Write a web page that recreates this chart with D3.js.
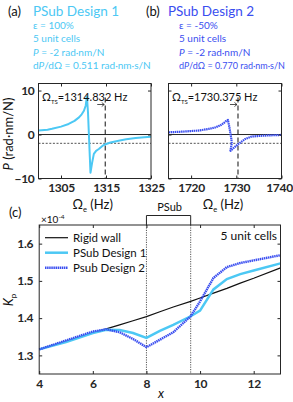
<!DOCTYPE html>
<html>
<head>
<meta charset="utf-8">
<script src="https://cdn.jsdelivr.net/npm/d3@7"></script>
<style>
  body { margin: 0; background: #fff; }
  svg { display: block; font-family: Lato, 'Open Sans', sans-serif; }
  .tick text { font-family: Lato, 'Open Sans', sans-serif; font-weight: 700; fill: #262626; letter-spacing: -0.3px; }
</style>
</head>
<body>
<svg id="chart" width="293" height="402"></svg>
<script>
// (a) PSub Design 1 : P vs excitation frequency
const freqA = [1300, 1302, 1303, 1305, 1306.7, 1308, 1309, 1309.6, 1310.1, 1310.5, 1310.75,
  1311.0, 1311.2, 1311.4, 1311.55, 1311.9, 1312.3, 1312.8, 1313.4, 1314.2, 1314.9, 1316,
  1317.8, 1319.5, 1321.6, 1323.5, 1325];
const pA = [0.9, 1.1, 1.3, 1.8, 2.4, 3.1, 3.9, 4.6, 5.4, 6.6, 8.7,
  5, 0, -5, -8.7, -6.5, -4.4, -3.7, -3.3, -2.6, -2.2, -1.8,
  -1.4, -1.1, -0.8, -0.6, -0.5];

// (b) PSub Design 2
const freqB = [1715, 1718, 1721.6, 1724, 1725.3, 1726.5, 1727.2, 1727.8, 1728.15, 1728.5,
  1728.9, 1729.0, 1728.7, 1730.4, 1732, 1733.4, 1736.4, 1740];
const pB = [0.5, 0.65, 0.9, 1.3, 1.6, 2.1, 2.6, 3.1, 3.3, 1.5,
  -1.0, -2.0, -3.7, -2.2, -1.0, -0.45, -0.23, -0.1];

const tsFreq = [1314.832, 1730.375];
const pTarget = -2;

const ticksFA = [1305, 1315, 1325];
const ticksFB = [1720, 1730, 1740];
const ticksP = [-10, 0, 10];

// (c) K_p along x (x10^-4)
const xPos = [4, 5, 6, 6.5, 7, 7.5, 8, 8.5, 9, 9.65, 10, 10.5, 11, 11.5, 12, 13];
const kRigid = [1.316, 1.338, 1.360, 1.371, 1.382, 1.393, 1.404, 1.417, 1.430, 1.445, 1.454, 1.467, 1.480, 1.494, 1.507, 1.535];
const kDesign1 = [1.316, 1.336, 1.360, 1.369, 1.368, 1.360, 1.347, 1.366, 1.382, 1.405, 1.420, 1.477, 1.505, 1.518, 1.528, 1.547];
const kDesign2 = [1.316, 1.340, 1.364, 1.370, 1.362, 1.344, 1.322, 1.342, 1.362, 1.405, 1.445, 1.508, 1.537, 1.548, 1.555, 1.569];
const psubRange = [8, 9.65];
const ticksX = [4, 6, 8, 10, 12];
const ticksK = [1.3, 1.4, 1.5, 1.6];

const cyan = '#4cc8f4';
const blue = '#3a4ef0';
const ink = '#262626';

const svg = d3.select('#chart');

function frame(x, y, xt, yt, yLabels, pad, xFmt, yFmt) {
  const g = svg.append('g');
  const [x0, x1] = x.range();
  const [yb, yt0] = y.range();
  g.append('g').attr('class', 'xax').attr('transform', `translate(0,${yb})`)
    .call(d3.axisBottom(x).tickValues(xt).tickFormat(xFmt).tickSizeInner(-3).tickSizeOuter(0).tickPadding(pad[0]));
  g.append('g').attr('transform', `translate(0,${yt0})`)
    .call(d3.axisTop(x).tickValues(xt).tickSizeInner(-3).tickSizeOuter(0).tickFormat(''));
  const la = d3.axisLeft(y).tickValues(yt).tickFormat(yLabels ? yFmt : '').tickSizeInner(-3).tickSizeOuter(0).tickPadding(pad[1]);
  g.append('g').attr('transform', `translate(${x0},0)`).call(la);
  g.append('g').attr('transform', `translate(${x1},0)`)
    .call(d3.axisRight(y).tickValues(yt).tickSizeInner(-3).tickSizeOuter(0).tickFormat(''));
  g.selectAll('.domain').remove();
  g.selectAll('.tick line').attr('stroke', ink);
  g.selectAll('.tick text').attr('font-size', 12);
  g.append('rect').attr('x', x0).attr('y', yt0).attr('width', x1 - x0).attr('height', yb - yt0)
    .attr('fill', 'none').attr('stroke', ink).attr('stroke-width', 1);
  return g;
}

// ---------- panels (a) and (b) ----------
const yP = d3.scaleLinear().domain([-10, 11.6]).range([178.5, 83.5]);
const xA = d3.scaleLinear().domain([1300, 1325]).range([38.5, 151]);
const xB = d3.scaleLinear().domain([1715, 1740]).range([168.5, 281.5]);

function responsePanel(x, freq, p, ts, color, dotted, xt, yLabels) {
  const g = svg.append('g');
  const [x0, x1] = x.range();
  g.append('line').attr('x1', x0).attr('x2', x1).attr('y1', yP(0)).attr('y2', yP(0))
    .attr('stroke', ink).attr('stroke-width', 1);
  g.append('line').attr('x1', x0).attr('x2', x1).attr('y1', yP(pTarget)).attr('y2', yP(pTarget))
    .attr('stroke', ink).attr('stroke-width', 0.8).attr('stroke-dasharray', '2,1.6');
  g.append('line').attr('x1', x(ts)).attr('x2', x(ts)).attr('y1', yP.range()[1] + 14).attr('y2', yP.range()[0])
    .attr('stroke', ink).attr('stroke-width', 1.1).attr('stroke-dasharray', '5,3');
  const line = d3.line().x((d, i) => x(freq[i])).y(d => yP(d));
  const path = g.append('path').datum(p).attr('d', line).attr('fill', 'none')
    .attr('stroke', color).attr('stroke-linejoin', 'round');
  if (dotted) path.attr('stroke-width', 2.2).attr('stroke-dasharray', '1.5,0.6');
  else path.attr('stroke-width', 2);
  const fr = frame(x, yP, xt, ticksP, yLabels, [5, 4], d3.format('d'), d3.format('d'));
  // keep the right-most label inside the page
  fr.select('.xax').selectAll('.tick text').filter(d => x(d) > 270).attr('dx', -2.5);
  // Omega_TS label
  const t = svg.append('text').attr('x', x.range()[0] + 3.5).attr('y', 101).attr('font-size', 11)
    .attr('fill', '#111');
  t.append('tspan').text('Ω');
  t.append('tspan').text('TS').attr('font-size', 6).attr('dy', 2.5);
  t.append('tspan').text('=' + ts.toFixed(3) + ' Hz').attr('dy', -2.5);
  // small arrow pointing at the dashed line
  const ax = x(ts);
  svg.append('path').attr('d', `M${ax - 8},104.5H${ax - 1}M${ax - 3.5},102.5L${ax - 1},104.5L${ax - 3.5},106.5`)
    .attr('fill', 'none').attr('stroke', ink).attr('stroke-width', 0.8);
  // x label
  const lx = (x.range()[0] + x.range()[1]) / 2 - 2;
  const xl = svg.append('text').attr('x', lx).attr('y', 209).attr('text-anchor', 'middle')
    .attr('font-size', 13).attr('fill', '#111');
  xl.append('tspan').text('Ω');
  xl.append('tspan').text('e').attr('font-size', 7.5).attr('dy', 2.5);
  xl.append('tspan').text(' (Hz)').attr('dy', -2.5);
}

responsePanel(xA, freqA, pA, tsFreq[0], cyan, false, ticksFA, true);
responsePanel(xB, freqB, pB, tsFreq[1], blue, true, ticksFB, false);

// y label for (a)
const yl = svg.append('text').attr('transform', 'translate(13,134) rotate(-90)')
  .attr('text-anchor', 'middle').attr('font-size', 13).attr('fill', '#111');
yl.append('tspan').text('P').attr('font-style', 'italic');
yl.append('tspan').text(' (rad·nm/N)');

// headings
function heading(tag, tx, title, lx, lines, color, lastSize) {
  svg.append('text').attr('x', tx).attr('y', 16).attr('font-size', 13).attr('fill', '#111').text(tag);
  svg.append('text').attr('x', lx[0]).attr('y', 16).attr('font-size', 13.5).attr('fill', color).text(title);
  lines.forEach((parts, i) => {
    const fs = i === lines.length - 1 ? lastSize : 10;
    const t = svg.append('text').attr('x', lx[1]).attr('y', 29 + i * 13.3).attr('font-size', fs).attr('fill', color);
    parts.forEach(p => {
      const s = t.append('tspan').text(p[0]);
      if (p[1]) s.attr('font-style', 'italic');
    });
  });
}
heading('(a)', 8, 'PSub Design 1', [33, 33], [
  [['ε = 100%']],
  [['5 unit cells']],
  [['P', 1], [' = -2 rad·nm/N']],
  [['d'], ['P', 1], ['/dΩ = 0.511 rad·nm·s/N']]
], cyan, 10);
heading('(b)', 146, 'PSub Design 2', [168, 179], [
  [['ε = -50%']],
  [['5 unit cells']],
  [['P', 1], [' = -2 rad·nm/N']],
  [['d'], ['P', 1], ['/dΩ = 0.770 rad·nm·s/N']]
], blue, 9);

// ---------- panel (c) ----------
const xC = d3.scaleLinear().domain([4, 13]).range([39.2, 280.5]);
const yC = d3.scaleLinear().domain([1.25, 1.65]).range([374, 225]);

svg.append('text').attr('x', 9).attr('y', 217).attr('font-size', 13).attr('fill', '#111').text('(c)');

const gc = svg.append('g');
psubRange.forEach(v => {
  gc.append('line').attr('x1', xC(v)).attr('x2', xC(v)).attr('y1', yC.range()[1]).attr('y2', yC.range()[0])
    .attr('stroke', '#444').attr('stroke-width', 0.9).attr('stroke-dasharray', '1.2,1.2');
});
gc.append('path')
  .attr('d', `M${xC(psubRange[0])},${yC.range()[1]}V215.5H${xC(psubRange[1])}V${yC.range()[1]}`)
  .attr('fill', 'none').attr('stroke', ink).attr('stroke-width', 1);
gc.append('text').attr('x', (xC(psubRange[0]) + xC(psubRange[1])) / 2 + 1).attr('y', 210.5)
  .attr('text-anchor', 'middle').attr('font-size', 11).attr('fill', '#111').text('PSub');

const lineC = d3.line().x((d, i) => xC(xPos[i])).y(d => yC(d));
gc.append('path').datum(kRigid).attr('d', lineC).attr('fill', 'none').attr('stroke', '#111').attr('stroke-width', 1.2);
gc.append('path').datum(kDesign1).attr('d', lineC).attr('fill', 'none').attr('stroke', cyan).attr('stroke-width', 2.5);
gc.append('path').datum(kDesign2).attr('d', lineC).attr('fill', 'none').attr('stroke', blue)
  .attr('stroke-width', 2.4).attr('stroke-dasharray', '1.5,0.6');

frame(xC, yC, ticksX, ticksK, true, [5, 6], d3.format('d'), d3.format('.1f'));

// multiplier
const mult = svg.append('text').attr('x', 41).attr('y', 223).attr('font-size', 10).attr('fill', '#111');
mult.append('tspan').text('×10');
mult.append('tspan').text('-4').attr('font-size', 6.5).attr('dy', -4);

// legend
const legend = [
  { name: 'Rigid wall', color: '#111', w: 1.2, dash: null },
  { name: 'PSub Design 1', color: cyan, w: 2.5, dash: null },
  { name: 'Psub Design 2', color: blue, w: 2.4, dash: '1.5,0.6' }
];
legend.forEach((d, i) => {
  const y = 237.7 + i * 15;
  const l = svg.append('line').attr('x1', 45).attr('x2', 68).attr('y1', y).attr('y2', y)
    .attr('stroke', d.color).attr('stroke-width', d.w);
  if (d.dash) l.attr('stroke-dasharray', d.dash);
  svg.append('text').attr('x', 73).attr('y', y + 4).attr('font-size', 11.5).attr('fill', '#111').text(d.name);
});

svg.append('text').attr('x', 277).attr('y', 240).attr('text-anchor', 'end').attr('font-size', 12)
  .attr('fill', '#111').text('5 unit cells');

// axis labels (c)
const kl = svg.append('text').attr('transform', 'translate(13,300) rotate(-90)')
  .attr('text-anchor', 'middle').attr('font-size', 13).attr('fill', '#111');
kl.append('tspan').text('K').attr('font-style', 'italic');
kl.append('tspan').text('p').attr('font-size', 8).attr('dy', 2.5);

svg.append('text').attr('x', 161).attr('y', 398).attr('text-anchor', 'middle').attr('font-size', 13)
  .attr('font-style', 'italic').attr('fill', '#111').text('x');
</script>
</body>
</html>
